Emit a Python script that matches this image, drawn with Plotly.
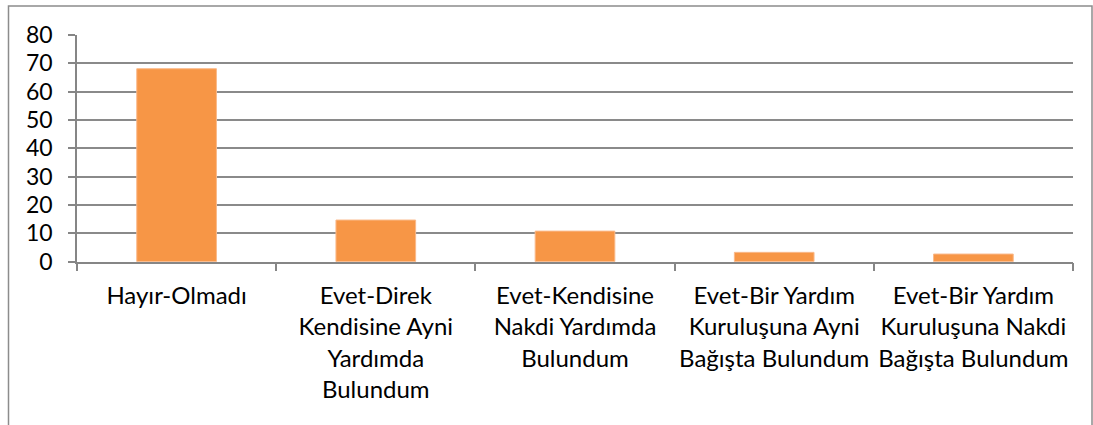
import plotly.graph_objects as go

categories = [
    "Hayır-Olmadı",
    "Evet-Direk<br>Kendisine Ayni<br>Yardımda<br>Bulundum",
    "Evet-Kendisine<br>Nakdi Yardımda<br>Bulundum",
    "Evet-Bir Yardım<br>Kuruluşuna Ayni<br>Bağışta Bulundum",
    "Evet-Bir Yardım<br>Kuruluşuna Nakdi<br>Bağışta Bulundum",
]
values = [68.1, 14.7, 10.8, 3.3, 2.7]
y_ticks = [0, 10, 20, 30, 40, 50, 60, 70, 80]

W, H = 1093, 425
FONT = "Lato, Open Sans, sans-serif"

fig = go.Figure(go.Bar(
    x=categories, y=values,
    marker=dict(color="#F79646", line=dict(color="#FAB98A", width=1)),
    hoverinfo="y",
))

fig.update_layout(
    width=W, height=H,
    margin=dict(l=0, r=0, t=0, b=0, autoexpand=False),
    paper_bgcolor="white", plot_bgcolor="white",
    bargap=0.6,
    showlegend=False,
    font=dict(family=FONT, color="#000000"),
    xaxis=dict(
        domain=[77 / W, 1073 / W],
        type="category",
        automargin=False,
        showgrid=False,
        showline=True, linecolor="#868686", linewidth=1.5,
        ticks="outside", tickson="boundaries", ticklen=8, tickcolor="#868686", tickwidth=1.5,
        tickfont=dict(size=24, family=FONT),
        ticklabelstandoff=12,
        tickangle=0,
        zeroline=False,
    ),
    yaxis=dict(
        domain=[1 - 261.7 / H, 1 - 35 / H],
        range=[0, 80],
        automargin=False,
        tickvals=y_ticks,
        showgrid=True, gridcolor="#8a8a8a", gridwidth=1.5,
        showline=True, linecolor="#868686", linewidth=1.5,
        ticks="outside", ticklen=7, tickcolor="#868686", tickwidth=1.5,
        tickfont=dict(size=23, family=FONT),
        ticklabelstandoff=11,
        zeroline=False,
    ),
    shapes=[dict(
        type="rect", xref="paper", yref="paper",
        x0=8.5 / W, x1=1092 / W, y0=-0.05, y1=1 - 6 / H,
        line=dict(color="#8c8c8c", width=1.5),
        layer="below",
    )],
)

fig.write_html(
    "out.html",
    config={"displayModeBar": False},
    post_script="document.body.style.margin='0';document.body.style.overflow='hidden';",
)
